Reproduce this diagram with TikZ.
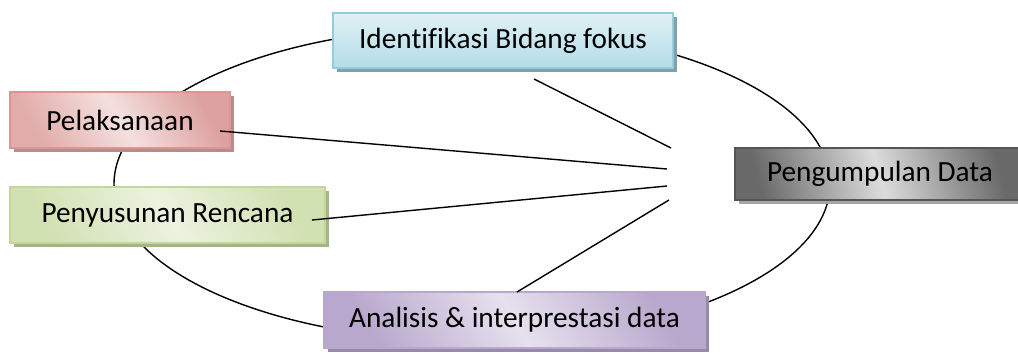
\documentclass[tikz,border=0pt]{standalone}
\usepackage{fontspec}
\setmainfont{Carlito}[Ligatures=NoCommon]
\usetikzlibrary{shadows}
\definecolor{idLight}{RGB}{224,241,246}
\definecolor{idDark}{RGB}{180,220,231}
\definecolor{idBorder}{RGB}{146,205,220}
\definecolor{idShadow}{RGB}{128,160,170}
\definecolor{pelLight}{RGB}{244,224,223}
\definecolor{pelDark}{RGB}{217,150,148}
\definecolor{pelShadow}{RGB}{185,140,140}
\definecolor{penLight}{RGB}{236,242,224}
\definecolor{penDark}{RGB}{210,225,178}
\definecolor{penBorder}{RGB}{195,214,155}
\definecolor{penShadow}{RGB}{165,180,135}
\definecolor{pgLight}{RGB}{220,220,220}
\definecolor{pgDark}{RGB}{105,105,105}
\definecolor{pgBorder}{RGB}{85,85,85}
\definecolor{pgShadow}{RGB}{165,165,165}
\definecolor{anLight}{RGB}{230,225,238}
\definecolor{anDark}{RGB}{185,168,205}
\definecolor{anShadow}{RGB}{150,140,170}
\tikzset{
  box/.style={draw, line width=1.2pt, minimum height=55pt, inner sep=0pt,
    font=\fontsize{29.3}{32}\selectfont, text=black, anchor=center},
  link/.style={line width=1.4pt, draw=black},
  idbox/.style={box, draw=idBorder, shading=axis, top color=idLight, bottom color=idDark,
    general shadow={shadow xshift=4pt, shadow yshift=-4pt, fill=idShadow}},
  pelbox/.style={box, draw=pelDark, shading=axis, left color=pelDark!85!pelLight, right color=pelDark!70!pelLight, middle color=pelLight, shading angle=-60,
    general shadow={shadow xshift=4pt, shadow yshift=-4pt, fill=pelShadow}},
  penbox/.style={box, draw=penBorder, shading=axis, left color=penDark, right color=penDark, middle color=penLight, shading angle=-60,
    general shadow={shadow xshift=4pt, shadow yshift=-4pt, fill=penShadow}},
  pgbox/.style={box, draw=pgBorder, shading=axis, left color=pgDark, right color=pgDark, middle color=pgLight, shading angle=-75,
    general shadow={shadow xshift=4pt, shadow yshift=-4pt, fill=pgShadow}},
  anbox/.style={box, draw=anDark, shading=axis, left color=anDark, right color=anDark, middle color=anLight, shading angle=-60,
    general shadow={shadow xshift=4pt, shadow yshift=-4pt, fill=anShadow}},
}
\begin{document}
\begin{tikzpicture}[x=1pt,y=1pt]
\useasboundingbox (0,0) rectangle (1018,357);
% cycle ellipse behind the boxes
\draw[link] (472,173) ellipse [x radius=358, y radius=157];
% boxes
\node[idbox, minimum width=340pt, minimum height=55pt] (ident) at (503,316.5) {Identifikasi Bidang fokus};
\node[pelbox, minimum width=220pt, minimum height=56pt] (pel) at (120,237) {Pelaksanaan};
\node[penbox, minimum width=315pt, minimum height=56pt] (pen) at (167.5,142) {Penyusunan Rencana};
\node[pgbox, minimum width=287pt, minimum height=52pt] (peng) at (878.5,183) {\hspace*{3pt}Pengumpulan Data};
\node[anbox, minimum width=381pt, minimum height=56pt] (ana) at (514.5,37) {Analisis \& interprestasi data};
% spokes
\coordinate (s1a) at (534,278);
\coordinate (s1b) at (671,209);
\coordinate (s2a) at (220,226);
\coordinate (s2b) at (667,188);
\coordinate (s3a) at (312,137);
\coordinate (s3b) at (667,171);
\coordinate (s4a) at (669,157);
\coordinate (s4b) at (517,65);
\draw[link] (s1a) -- (s1b);
\draw[link] (s2a) -- (s2b);
\draw[link] (s3a) -- (s3b);
\draw[link] (s4a) -- (s4b);
\end{tikzpicture}
\end{document}
